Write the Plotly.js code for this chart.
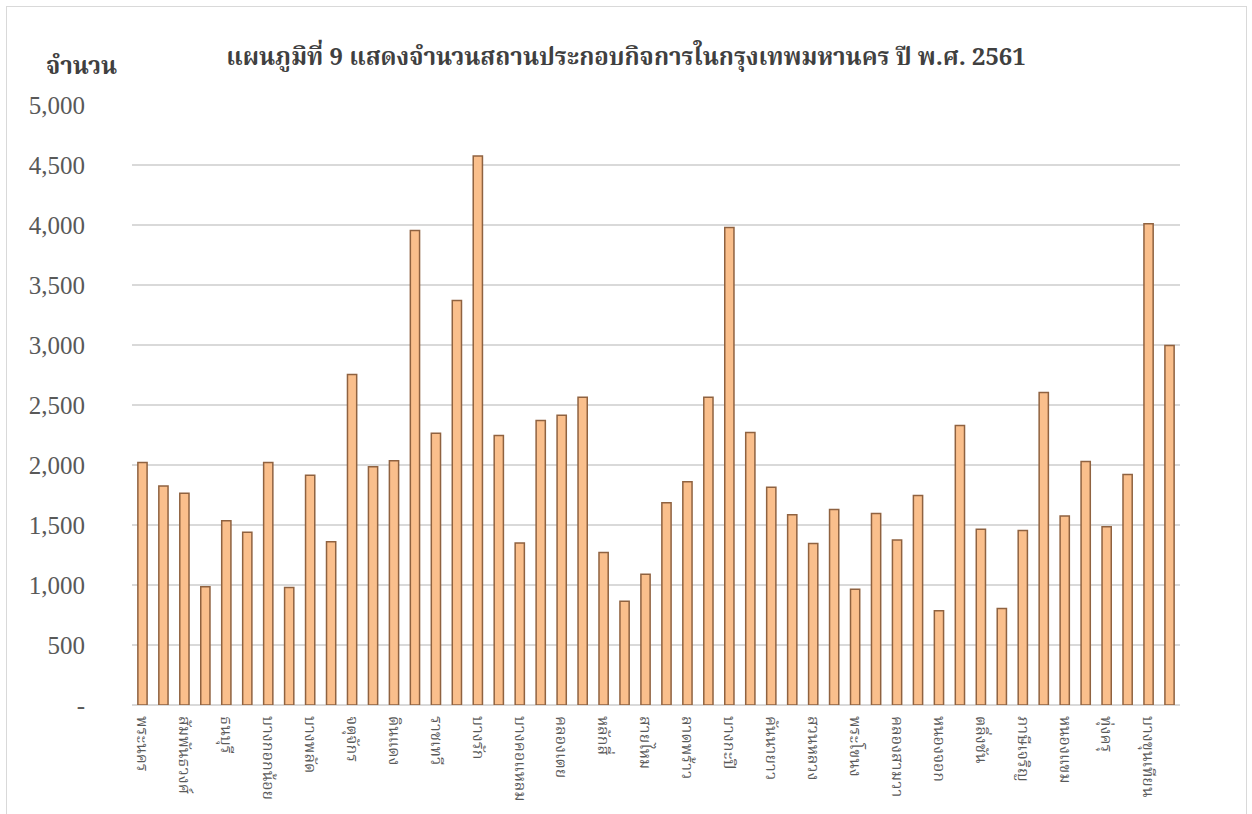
<!DOCTYPE html>
<html>
<head>
<meta charset="utf-8">
<script src="https://cdn.plot.ly/plotly-3.0.1.min.js"></script>
<style>
  body { margin: 0; background: #fff; }
  #chart { position: absolute; left: 0; top: 0; width: 1252px; height: 814px; }
  #frame { position: absolute; left: 6px; top: 6px; width: 1239px; height: 830px;
           border: 1px solid #d9d9d9; pointer-events: none; }
</style>
</head>
<body>
<div id="chart"></div>
<div id="frame"></div>
<script>
const districts = [
  "พระนคร", "ป้อมปราบศัตรูพ่าย", "สัมพันธวงศ์", "คลองสาน", "ธนบุรี",
  "บางกอกใหญ่", "บางกอกน้อย", "ดุสิต", "บางพลัด", "บางซื่อ",
  "จตุจักร", "พญาไท", "ดินแดง", "ห้วยขวาง", "ราชเทวี",
  "ปทุมวัน", "บางรัก", "สาทร", "บางคอแหลม", "ยานนาวา",
  "คลองเตย", "วัฒนา", "หลักสี่", "ดอนเมือง", "สายไหม",
  "บางเขน", "ลาดพร้าว", "วังทองหลาง", "บางกะปิ", "บึงกุ่ม",
  "คันนายาว", "สะพานสูง", "สวนหลวง", "ประเวศ", "พระโขนง",
  "บางนา", "คลองสามวา", "มีนบุรี", "หนองจอก", "ลาดกระบัง",
  "ตลิ่งชัน", "ทวีวัฒนา", "ภาษีเจริญ", "บางแค", "หนองแขม",
  "ราษฎร์บูรณะ", "ทุ่งครุ", "จอมทอง", "บางขุนเทียน", "บางบอน"
]

const establishments = [
  2020, 1825, 1765, 985, 1535, 1440, 2020, 980, 1915, 1360,
  2755, 1985, 2035, 3955, 2265, 3370, 4575, 2245, 1350, 2370,
  2415, 2565, 1270, 865, 1090, 1685, 1860, 2565, 3980, 2270,
  1815, 1585, 1345, 1630, 965, 1595, 1375, 1745, 785, 2330,
  1465, 805, 1455, 2605, 1575, 2030, 1485, 1920, 4010, 2995
]

const yTickVals = [0, 500, 1000, 1500, 2000, 2500, 3000, 3500, 4000, 4500, 5000]
const yTickText = ["-", "500", "1,000", "1,500", "2,000", "2,500", "3,000", "3,500", "4,000", "4,500", "5,000"]

// every second district gets a label, as in the original
const shownDistricts = districts.filter((d, i) => i % 2 === 0)

const thaiFont = "'Noto Serif Thai', 'Noto Sans Thai', 'Liberation Serif', serif"

const bars = {
  type: "bar",
  x: districts,
  y: establishments,
  marker: {
    color: "#fabf8c",
    line: { color: "#8f6240", width: 1.5 }
  },
  hoverinfo: "x+y"
}

const layout = {
  width: 1252,
  height: 814,
  margin: { l: 132, r: 72, t: 105, b: 109 },
  paper_bgcolor: "#ffffff",
  plot_bgcolor: "#ffffff",
  bargap: 0.56,
  showlegend: false,
  title: {
    text: "<b>แผนภูมิที่ 9 แสดงจำนวนสถานประกอบกิจการในกรุงเทพมหานคร ปี พ.ศ. 2561</b>",
    font: { family: thaiFont, size: 24, color: "#404040" },
    x: 0.5,
    xanchor: "center",
    y: 0.93,
    yanchor: "middle"
  },
  xaxis: {
    type: "category",
    tickmode: "array",
    tickvals: shownDistricts,
    ticktext: shownDistricts,
    tickangle: 90,
    tickfont: { family: thaiFont, size: 16, color: "#595959" },
    ticklabelstandoff: 10,
    showgrid: false,
    showline: false,
    zeroline: false,
    range: [-0.5, districts.length - 0.5]
  },
  yaxis: {
    range: [0, 5000],
    tickmode: "array",
    tickvals: yTickVals,
    ticktext: yTickText,
    tickfont: { family: "'Liberation Serif', serif", size: 25, color: "#595959" },
    ticklabelstandoff: 46,
    showgrid: true,
    gridcolor: "#d9d9d9",
    gridwidth: 2,
    zeroline: true,
    zerolinecolor: "#d9d9d9",
    zerolinewidth: 2,
    showline: false
  },
  annotations: [{
    text: "<b>จำนวน</b>",
    xref: "paper",
    yref: "paper",
    x: -0.084,
    y: 1.062,
    xanchor: "left",
    yanchor: "middle",
    showarrow: false,
    font: { family: thaiFont, size: 24, color: "#404040" }
  }]
}

Plotly.newPlot("chart", [bars], layout, { displayModeBar: false, staticPlot: true })
</script>
</body>
</html>
